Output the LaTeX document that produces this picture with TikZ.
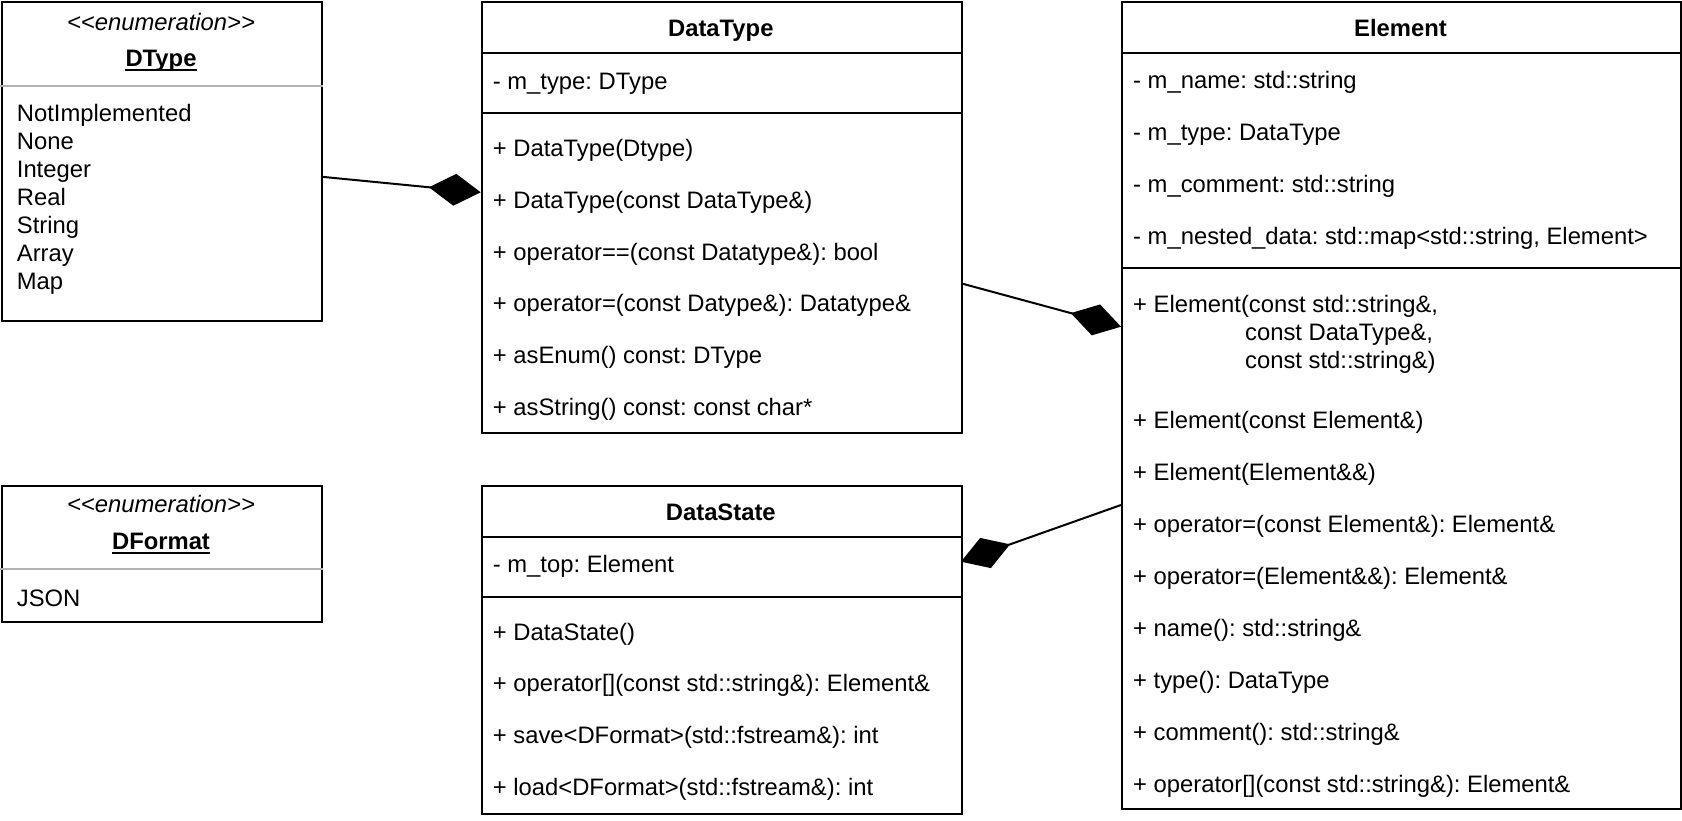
\documentclass[tikz,border=0pt]{standalone}
\usepackage{fontspec}
\setmainfont{Liberation Sans}
\usetikzlibrary{arrows.meta}
\frenchspacing
\newcommand{\umlfs}{\fontsize{23.8}{28}\selectfont}
\begin{document}
\begin{tikzpicture}[x=1pt,y=-1pt,
  box/.style={draw, line width=2pt, inner sep=0, anchor=north west},
  sep/.style={line width=2pt},
  gsep/.style={line width=2pt, draw=gray!60},
  txt/.style={anchor=base west, inner sep=0, font=\umlfs},
  hdr/.style={anchor=base, inner sep=0, font=\umlfs\bfseries},
  stereo/.style={anchor=base, inner sep=0, font=\umlfs\itshape},
  comp/.style={line width=2pt, -{Diamond[length=52pt,width=32pt]}}
]
\useasboundingbox (0,0) rectangle (1682,820);

% ---------- DType ----------
\node[box, minimum width=320pt, minimum height=319pt] (dtype) at (1,1) {};
\node[stereo] (dtypest) at (161,30.5) {<\kern0pt<enumeration>\kern0pt>};
\node[hdr] (dtypename) at (161,66.7) {DType};
\draw[sep] ([yshift=-3.5pt]dtypename.base west) -- ([yshift=-3.5pt]dtypename.base east);
\draw[gsep] (0,86) -- (323,86);
\node[txt] (dt1) at (16.7,121.7) {NotImplemented};
\node[txt] (dt2) at (16.7,149.6) {None};
\node[txt] (dt3) at (16.7,177.5) {Integer};
\node[txt] (dt4) at (16.7,205.4) {Real};
\node[txt] (dt5) at (16.7,233.3) {String};
\node[txt] (dt6) at (16.7,261.2) {Array};
\node[txt] (dt7) at (16.7,289.1) {Map};

% ---------- DFormat ----------
\node[box, minimum width=320pt, minimum height=135.7pt] (dfmt) at (1,485) {};
\node[stereo] (dfmtst) at (161,512.5) {<\kern0pt<enumeration>\kern0pt>};
\node[hdr] (dfmtname) at (161,549.3) {DFormat};
\draw[sep] ([yshift=-3.5pt]dfmtname.base west) -- ([yshift=-3.5pt]dfmtname.base east);
\draw[gsep] (0,569.3) -- (323,569.3);
\node[txt] (df1) at (16.7,606) {JSON};

% ---------- DataType ----------
\node[box, minimum width=480.3pt, minimum height=431pt] (dt) at (480.7,1) {};
\node[hdr] (dtname) at (720.8,36) {DataType};
\draw[sep] (480.7,52.7) -- (961,52.7);
\node[txt] (dta1) at (492.7,89) {- m\_type: DType};
\draw[sep] (480.7,113) -- (961,113);
\node[txt] (dtm1) at (492.7,156.7) {+ DataType(Dtype)};
\node[txt] (dtm2) at (492.7,208.4) {+ DataType(const DataType\&)};
\node[txt] (dtm3) at (492.7,260.1) {+ operator==(const Datatype\&): bool};
\node[txt] (dtm4) at (492.7,311.8) {+ operator=(const Datype\&): Datatype\&};
\node[txt] (dtm5) at (492.7,363.5) {+ asEnum() const: DType};
\node[txt] (dtm6) at (492.7,415.2) {+ asString() const: const char*};

% ---------- DataState ----------
\node[box, minimum width=480.3pt, minimum height=327.5pt] (ds) at (480.7,485) {};
\node[hdr] (dsname) at (720.8,520) {DataState};
\draw[sep] (480.7,536.7) -- (961,536.7);
\node[txt] (dsa1) at (492.7,572) {- m\_top: Element};
\draw[sep] (480.7,596.7) -- (961,596.7);
\node[txt] (dsm1) at (492.7,640) {+ DataState()};
\node[txt] (dsm2) at (492.7,691.7) {+ operator[](const std::string\&): Element\&};
\node[txt] (dsm3) at (492.7,743.4) {+ save<DFormat>(std::fstream\&): int};
\node[txt] (dsm4) at (492.7,795.1) {+ load<DFormat>(std::fstream\&): int};

% ---------- Element ----------
\node[box, minimum width=559pt, minimum height=807pt] (el) at (1121,1) {};
\node[hdr] (elname) at (1400.5,36) {Element};
\draw[sep] (1121,52.5) -- (1680,52.5);
\node[txt] (ela1) at (1133,88.7) {- m\_name: std::string};
\node[txt] (ela2) at (1133,140.7) {- m\_type: DataType};
\node[txt] (ela3) at (1133,192.7) {- m\_comment: std::string};
\node[txt] (ela4) at (1133,244.7) {- m\_nested\_data: std::map<std::string, Element>};
\draw[sep] (1121,268) -- (1680,268);
\node[txt] (elm1a) at (1133,312) {+ Element(const std::string\&,};
\node[txt] (elm1b) at (1245,340) {const DataType\&,};
\node[txt] (elm1c) at (1245,368) {const std::string\&)};
\node[txt] (elm2) at (1133,428) {+ Element(const Element\&)};
\node[txt] (elm3) at (1133,480) {+ Element(Element\&\&)};
\node[txt] (elm4) at (1133,532) {+ operator=(const Element\&): Element\&};
\node[txt] (elm5) at (1133,584) {+ operator=(Element\&\&): Element\&};
\node[txt] (elm6) at (1133,636) {+ name(): std::string\&};
\node[txt] (elm7) at (1133,688) {+ type(): DataType};
\node[txt] (elm8) at (1133,740) {+ comment(): std::string\&};
\node[txt] (elm9) at (1133,792) {+ operator[](const std::string\&): Element\&};

% ---------- compositions ----------
\coordinate (c1s) at (321,176.7);
\coordinate (c1e) at (480.7,192.3);
\coordinate (c2s) at (961,283.3);
\coordinate (c2e) at (1121,326.7);
\coordinate (c3s) at (1121,505);
\coordinate (c3e) at (961,561.7);
\draw[comp] (c1s) -- (c1e);
\draw[comp] (c2s) -- (c2e);
\draw[comp] (c3s) -- (c3e);
\end{tikzpicture}
\end{document}
